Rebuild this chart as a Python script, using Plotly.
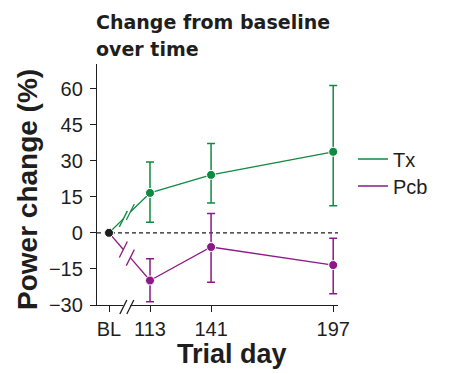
import plotly.graph_objects as go

# ---- data ----
tick_labels = ["BL", "113", "141", "197"]
trial_days = [113, 141, 197]
baseline_value = 0
tx_mean = [16.6, 24.1, 33.7]
tx_upper = [29.5, 37.1, 61.3]
tx_lower = [4.4, 12.4, 11.3]
pcb_mean = [-19.8, -5.9, -13.4]
pcb_upper = [-10.8, 8.0, -2.2]
pcb_lower = [-28.7, -20.5, -25.3]
y_ticks = [-30, -15, 0, 15, 30, 45, 60]
title_lines = ["Change from baseline", "over time"]

# ---- style / layout constants ----
GREEN = "#0f8a40"
PURPLE = "#8c1a86"
DARK = "#1e1e1e"
BL_POS = 94.2            # where baseline is drawn on the (broken) day axis
BREAK_T = (0.35, 0.52)    # fractions of the BL->first-visit segment where break marks sit
FONT = "Liberation Sans"
TITLE_FONT = "DejaVu Sans"
PLOT_BOTTOM_PX, PLOT_H_PX, PLOT_LEFT_PX, PLOT_W_PX = 305, 241, 97, 241

def px_x(px):
    return (px - PLOT_LEFT_PX) / PLOT_W_PX

def px_y(px):
    return (PLOT_BOTTOM_PX - px) / PLOT_H_PX

def lerp(a, b, t):
    return a + (b - a) * t

fig = go.Figure()

def add_series(mean, upper, lower, color, name, legend_id):
    x0, y0 = BL_POS, baseline_value
    x1, y1 = trial_days[0], mean[0]
    pa = (lerp(x0, x1, BREAK_T[0]), lerp(y0, y1, BREAK_T[0]))
    pb = (lerp(x0, x1, BREAK_T[1]), lerp(y0, y1, BREAK_T[1]))
    # broken connector from baseline
    fig.add_trace(go.Scatter(x=[x0, pa[0]], y=[y0, pa[1]], mode="lines",
                             line=dict(color=color, width=1.3), showlegend=False,
                             hoverinfo="skip"))
    fig.add_trace(go.Scatter(x=[pb[0], x1], y=[pb[1], y1], mode="lines",
                             line=dict(color=color, width=1.3), showlegend=False,
                             hoverinfo="skip"))
    for p in (pa, pb):
        fig.add_shape(type="line", xref="x", yref="y", xsizemode="pixel", ysizemode="pixel",
                      xanchor=p[0], yanchor=p[1], x0=-4, x1=4, y0=-8, y1=8,
                      line=dict(color=color, width=1.3))
    fig.add_trace(go.Scatter(
        x=trial_days, y=mean, mode="lines+markers",
        line=dict(color=color, width=1.3),
        marker=dict(color=color, size=9, line=dict(color="white", width=1)),
        error_y=dict(type="data", symmetric=False,
                     array=[u - m for u, m in zip(upper, mean)],
                     arrayminus=[m - l for m, l in zip(mean, lower)],
                     color=color, thickness=1.5, width=4),
        showlegend=False, name=name))
    # legend entry (line only)
    fig.add_trace(go.Scatter(x=[None], y=[None], mode="lines", name=name,
                             line=dict(color=color, width=1.3), legend=legend_id))

# zero reference line
fig.add_shape(type="line", xref="paper", yref="y", x0=0, x1=1, y0=0, y1=0,
              line=dict(color=DARK, width=1.2, dash="4px,3px"), layer="below")

add_series(tx_mean, tx_upper, tx_lower, GREEN, "Tx", "legend")
add_series(pcb_mean, pcb_upper, pcb_lower, PURPLE, "Pcb", "legend2")

# baseline point
fig.add_trace(go.Scatter(x=[BL_POS], y=[baseline_value], mode="markers",
                         marker=dict(color=DARK, size=9, line=dict(color="white", width=1)),
                         showlegend=False))

# x-axis break
xa = lerp(BL_POS, trial_days[0], BREAK_T[0])
xb = lerp(BL_POS, trial_days[0], BREAK_T[1])
fig.add_shape(type="rect", xref="x", yref="paper", x0=xa, x1=xb, ysizemode="pixel",
              yanchor=0, y0=-2, y1=2, fillcolor="white", line=dict(width=0), layer="above")
for xp in (xa, xb):
    fig.add_shape(type="line", xref="x", yref="paper", xsizemode="pixel", ysizemode="pixel",
                  xanchor=xp, yanchor=0, x0=-3.5, x1=3.5, y0=-9, y1=5,
                  line=dict(color=DARK, width=1.3), layer="above")

legend_style = dict(xanchor="left", yanchor="middle",
                    font=dict(family=FONT, size=20, color=DARK),
                    bgcolor="rgba(0,0,0,0)", itemwidth=30)

title_annotations = [
    dict(text=f"<b>{line}</b>", xref="paper", yref="paper",
         x=px_x(94), y=px_y(cy), xanchor="left", yanchor="middle",
         showarrow=False, font=dict(family=TITLE_FONT, size=19, color=DARK))
    for line, cy in zip(title_lines, [22, 49])
]

fig.update_layout(
    width=454, height=374,
    margin=dict(l=97, r=116, t=64, b=69),
    paper_bgcolor="white", plot_bgcolor="white",
    font=dict(family=FONT, color=DARK, size=20),
    showlegend=True,
    legend=dict(x=px_x(353), y=px_y(159), **legend_style),
    legend2=dict(x=px_x(353), y=px_y(186), **legend_style),
    xaxis=dict(range=[88.7, 199.2], tickmode="array",
               tickvals=[BL_POS] + trial_days, ticktext=tick_labels,
               showgrid=False, zeroline=False, showline=True, linecolor=DARK, linewidth=1.3,
               ticks="outside", ticklen=6, tickwidth=1.3, tickcolor=DARK,
               tickfont=dict(family=FONT, size=20, color=DARK)),
    yaxis=dict(range=[-30, 70.2], tickmode="array", tickvals=y_ticks,
               showgrid=False, zeroline=False, showline=True, linecolor=DARK, linewidth=1.3,
               ticks="outside", ticklen=6, tickwidth=1.3, tickcolor=DARK,
               ticklabelstandoff=3,
               tickfont=dict(family=FONT, size=20, color=DARK)),
    annotations=title_annotations + [
        dict(text="<b>Power change (%)</b>", xref="paper", yref="paper",
             x=px_x(27), y=px_y(190), textangle=-90,
             showarrow=False, font=dict(family=FONT, size=28, color=DARK),
             xanchor="center", yanchor="middle"),
        dict(text="<b>Trial day</b>", xref="paper", yref="paper",
             x=px_x(232), y=px_y(354), showarrow=False,
             font=dict(family=FONT, size=27, color=DARK),
             xanchor="center", yanchor="middle"),
    ],
)

fig.write_html("out.html", config={"displayModeBar": False},
               post_script="document.body.style.margin='0px';")
